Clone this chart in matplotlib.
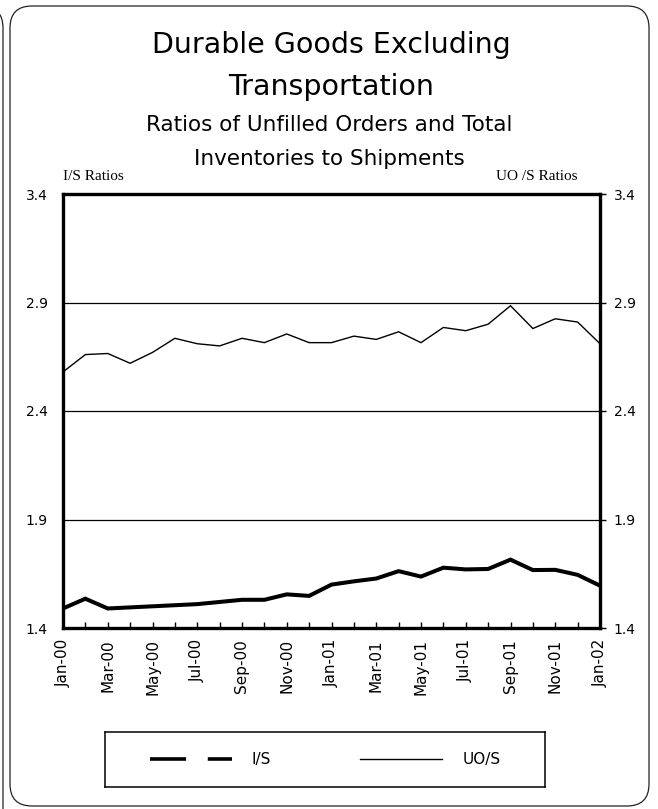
import matplotlib
matplotlib.use("Agg")
import matplotlib.pyplot as plt
from matplotlib.lines import Line2D
from matplotlib.patches import FancyBboxPatch
from matplotlib.transforms import IdentityTransform

# ---------------- data ----------------
months = ['Jan-00', 'Feb-00', 'Mar-00', 'Apr-00', 'May-00', 'Jun-00', 'Jul-00',
          'Aug-00', 'Sep-00', 'Oct-00', 'Nov-00', 'Dec-00', 'Jan-01', 'Feb-01',
          'Mar-01', 'Apr-01', 'May-01', 'Jun-01', 'Jul-01', 'Aug-01', 'Sep-01',
          'Oct-01', 'Nov-01', 'Dec-01', 'Jan-02']
uo_s = [2.58, 2.66, 2.665, 2.62, 2.67, 2.735, 2.71, 2.70, 2.735, 2.715, 2.755,
        2.715, 2.715, 2.745, 2.73, 2.765, 2.715, 2.785, 2.77, 2.80, 2.885, 2.78,
        2.825, 2.81, 2.71]
i_s = [1.49, 1.535, 1.49, 1.495, 1.50, 1.505, 1.51, 1.52, 1.53, 1.53, 1.555,
       1.548, 1.60, 1.615, 1.628, 1.662, 1.637, 1.678, 1.67, 1.672, 1.715, 1.667,
       1.668, 1.645, 1.595]
y_ticks = [1.4, 1.9, 2.4, 2.9, 3.4]
y_tick_labels = ['1.4', '1.9', '2.4', '2.9', '3.4']
series_labels = ['I/S', 'UO/S']

plt.rcParams['font.family'] = ['DejaVu Sans']

W, H = 658, 809
fig = plt.figure(figsize=(W / 100, H / 100), dpi=100)
fig.patch.set_facecolor('white')

def fx(px):
    return px / W

def fy(py):
    return 1 - py / H

# outer panel frames
fig.add_artist(FancyBboxPatch((10, H - 806), 639, 800,
                              boxstyle='round,pad=0,rounding_size=22',
                              transform=IdentityTransform(), fill=False,
                              lw=0.9, ec='#222222'))
fig.add_artist(FancyBboxPatch((-300, -60), 303, H - 6 + 60,
                              boxstyle='round,pad=0,rounding_size=22',
                              transform=IdentityTransform(), fill=False,
                              lw=0.9, ec='#222222'))

# titles
fig.text(fx(331), fy(53), 'Durable Goods Excluding', ha='center', va='baseline',
         fontsize=20.5)
fig.text(fx(331), fy(95), 'Transportation', ha='center', va='baseline',
         fontsize=20.5)
fig.text(fx(329), fy(131), 'Ratios of Unfilled Orders and Total', ha='center',
         va='baseline', fontsize=15.5)
fig.text(fx(329), fy(165), 'Inventories to Shipments', ha='center',
         va='baseline', fontsize=15.5)
fig.text(fx(63), fy(180), 'I/S Ratios', ha='left', va='baseline',
         fontsize=11, family='Liberation Serif')
fig.text(fx(577), fy(180), 'UO /S Ratios', ha='right', va='baseline',
         fontsize=11, family='Liberation Serif')

# main axes
ax = fig.add_axes([fx(63), fy(628), 537 / W, 434 / H])
x = list(range(len(months)))
ax.plot(x, uo_s, color='black', lw=1.0, solid_joinstyle='miter')
ax.plot(x, i_s, color='black', lw=2.9, solid_joinstyle='miter')
ax.set_xlim(0, len(months) - 1)
ax.set_ylim(y_ticks[0], y_ticks[-1])
ax.set_yticks(y_ticks)
ax.set_yticklabels(y_tick_labels)
ax.tick_params(axis='y', length=0, pad=11, labelsize=10)
ax.grid(axis='y', color='black', lw=0.9)
ax.set_xticks(x)
ax.set_xticklabels([m if i % 2 == 0 else '' for i, m in enumerate(months)],
                   rotation=90, fontsize=11)
ax.tick_params(axis='x', direction='in', length=4, width=1, pad=8)
for s in ax.spines.values():
    s.set_linewidth(2.4)

ax2 = ax.twinx()
ax2.set_ylim(y_ticks[0], y_ticks[-1])
ax2.set_yticks(y_ticks)
ax2.set_yticklabels(y_tick_labels)
ax2.tick_params(axis='y', direction='out', length=4, width=1, pad=6, labelsize=10)
for s in ax2.spines.values():
    s.set_visible(False)

# legend
lax = fig.add_axes([fx(105), fy(787), 440 / W, 55 / H])
lax.set_xticks([])
lax.set_yticks([])
for s in lax.spines.values():
    s.set_linewidth(1.1)
handles = [Line2D([], [], color='black', lw=2.6, dashes=(10, 6)),
           Line2D([], [], color='black', lw=1.0)]
lax.legend(handles, series_labels, loc='center', ncol=2, frameon=False,
           fontsize=11, handlelength=5.4, handletextpad=1.3, columnspacing=5.8)

fig.savefig('out.png', dpi=100)
